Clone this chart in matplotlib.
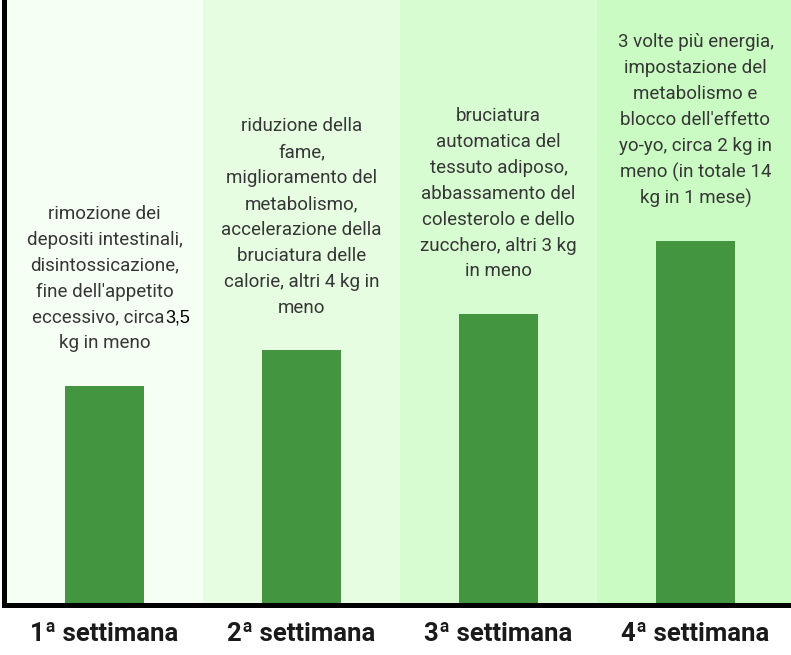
import matplotlib
matplotlib.use("Agg")
import matplotlib.pyplot as plt

categories = ["1ª settimana", "2ª settimana", "3ª settimana", "4ª settimana"]
values = [3.62, 4.21, 4.81, 6.02]
descriptions = [
    ["rimozione dei", "depositi intestinali,", "disintossicazione,",
     "fine dell'appetito", "eccessivo, circa", "kg in meno"],
    ["riduzione della", "fame,", "miglioramento del", "metabolismo,",
     "accelerazione della", "bruciatura delle", "calorie, altri 4 kg in", "meno"],
    ["bruciatura", "automatica del", "tessuto adiposo,", "abbassamento del",
     "colesterolo e dello", "zucchero, altri 3 kg", "in meno"],
    ["3 volte più energia,", "impostazione del", "metabolismo e",
     "blocco dell'effetto", "yo-yo, circa 2 kg in", "meno (in totale 14",
     "kg in 1 mese)"],
]
inline_number = "3,5"  # appended in black to line 5 of the first column

bg_colors = ["#F6FFF4", "#E6FDE2", "#D8FCD2", "#CAFBC3"]
bar_color = "#43953F"
text_color = "#363636"

W, H = 791, 655
fig = plt.figure(figsize=(W / 100, H / 100), dpi=100)
left_px, col_px = 6, 197
ax = fig.add_axes([left_px / W, 50 / H, 4 * col_px / W, 1 - 50 / H])
ax.set_xlim(-0.5, len(categories) - 0.5)
ax.set_ylim(0, 10)

for i, c in enumerate(bg_colors):
    ax.axvspan(i - 0.5, i + 0.5, color=c, lw=0, zorder=0)

ax.bar(range(len(categories)), values, width=0.40, color=bar_color, zorder=2)

pitch = 18.7
base = 27.0
for i, (v, lines) in enumerate(zip(values, descriptions)):
    n = len(lines)
    for j, line in enumerate(lines):
        off = base + (n - 1 - j) * pitch
        special = (i == 0 and j == 4)
        t = ax.annotate(line, xy=(i, v), xytext=(-4.5 if special else 0, off),
                        textcoords="offset points",
                        ha="center", va="baseline", fontsize=13.5, color=text_color,
                        family=["Roboto", "DejaVu Sans"], zorder=3,
                        annotation_clip=False)
        if special:
            ax.annotate(inline_number, xy=(1, 0), xycoords=t, xytext=(0.5, 0),
                        textcoords="offset points", ha="left", va="bottom",
                        fontsize=13, color="black",
                        family=["Liberation Sans", "DejaVu Sans"], zorder=3)

ax.set_xticks(range(len(categories)))
ax.set_xticklabels(categories, fontsize=18.5, fontweight="bold", color="#1A1A1A",
                   family=["Roboto", "DejaVu Sans"])
ax.tick_params(axis="x", length=0, pad=12)
ax.set_yticks([])
for s in ["top", "right"]:
    ax.spines[s].set_visible(False)
ax.spines["left"].set_linewidth(3.6)
ax.spines["bottom"].set_linewidth(3.6)
ax.spines["left"].set_color("black")
ax.spines["bottom"].set_color("black")
ax.spines["left"].set_position(("outward", 1.4))

fig.savefig("out.png", dpi=100)
